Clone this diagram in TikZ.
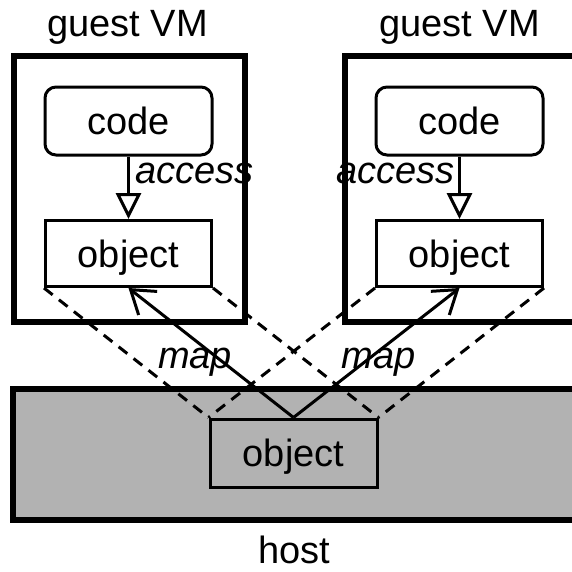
\documentclass[tikz,border=0pt]{standalone}
\usepackage{fontspec}
\setmainfont{Liberation Sans}
\usetikzlibrary{arrows.meta}
\begin{document}
\begin{tikzpicture}[x=1pt,y=-1pt,
  every node/.style={font=\fontsize{38}{42}\selectfont},
  thickbox/.style={draw=black,line width=6pt,inner sep=0pt},
  codebox/.style={draw=black,line width=3pt,rounded corners=11pt,minimum width=167pt,minimum height=68pt,inner sep=0pt,text height=27.7pt,text depth=0pt,fill=white},
  objbox/.style={draw=black,line width=3pt,minimum width=166pt,minimum height=66pt,inner sep=0pt,text height=27.7pt,text depth=0pt},
  lbl/.style={inner sep=0pt,anchor=base},
  ilbl/.style={inner sep=0pt,font=\fontsize{38}{42}\selectfont\itshape},
  accarrow/.style={line width=3pt,-{Triangle[open,length=26pt,width=25pt]}},
  maparrow/.style={line width=3pt,-{Straight Barb[length=22pt,width=30pt]}},
  mapdash/.style={line width=3pt,dash pattern=on 11pt off 8pt}
]
\useasboundingbox (0,0) rectangle (572,571);
\fill[white] (0,0) rectangle (572,571);
\begin{scope}
\clip (0,0) rectangle (572,571);
% host
\node[thickbox,fill=black!30,minimum width=568pt,minimum height=131pt,anchor=north west] (host) at (10,386) {};
\node[lbl] (hostlbl) at (294,563) {host};
% guest VMs
\node[thickbox,minimum width=231pt,minimum height=266pt,anchor=north west] (vmL) at (11,53) {};
\node[thickbox,minimum width=232pt,minimum height=266pt,anchor=north west] (vmR) at (342,53) {};
\node[lbl] (vmLlbl) at (127.5,36) {guest VM};
\node[lbl] (vmRlbl) at (459.5,36) {guest VM};
% inner nodes
\node[codebox] (codeL) at (128.5,121) {code};
\node[codebox] (codeR) at (459.5,121) {code};
\node[objbox] (objL) at (128.5,253.5) {object};
\node[objbox] (objR) at (459.5,253.5) {object};
\node[objbox,minimum width=167pt,minimum height=68pt] (objH) at (293.5,453) {object};
% access
\draw[accarrow] (codeL.south) -- (objL.north);
\draw[accarrow] (codeR.south) -- (objR.north);
\node[ilbl,anchor=base west] (accL) at (135,183) {access};
\node[ilbl,anchor=base east] (accR) at (455,183) {access};
% dashed maps
\draw[mapdash] (objL.south west) -- (objH.north west);
\draw[mapdash] (objL.south east) -- (objH.north east);
\draw[mapdash] (objR.south west) -- (objH.north west);
\draw[mapdash] (objR.south east) -- (objH.north east);
% solid maps
\draw[maparrow] (objH.north) -- (objL.south);
\draw[maparrow] (objH.north) -- (objR.south);
\node[ilbl,anchor=base] (mapL) at (195,368) {map};
\node[ilbl,anchor=base] (mapR) at (378.5,368) {map};
\end{scope}
\end{tikzpicture}
\end{document}
